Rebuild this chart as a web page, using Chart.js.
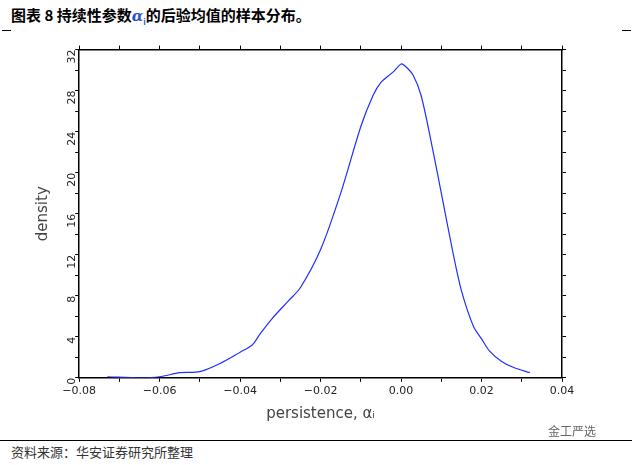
<!DOCTYPE html>
<html>
<head>
<meta charset="utf-8">
<script src="https://cdn.jsdelivr.net/npm/chart.js@4"></script>
<style>
  body { margin: 0; width: 632px; height: 465px; background: #fff; position: relative; font-family: "Noto Sans CJK SC", sans-serif; overflow: hidden; }
  #title { position: absolute; left: 11px; top: 4px; font-size: 15px; font-weight: bold; color: #000; }
  #title i { color: #2a4fd0; font-family: "DejaVu Serif", serif; }
  .mark { position: absolute; top: 30px; width: 9px; border-top: 1px solid #000; }
  #foot { position: absolute; left: 0; right: 0; top: 440px; border-top: 1px solid #000; }
  #src { position: absolute; left: 11px; top: 442px; font-size: 13px; color: #333; }
  #wm { position: absolute; left: 548px; top: 422px; font-size: 12px; color: #666; }
  #box { position: absolute; left: 0; top: 40px; width: 632px; height: 395px; }
</style>
</head>
<body>
<div id="title">图表 8 持续性参数<i>α</i><sub style="font-size:8px;color:#2a4fd0">i</sub>的后验均值的样本分布。</div>
<div class="mark" style="left:2px"></div>
<div class="mark" style="left:622px"></div>
<div id="box"><canvas id="c"></canvas></div>
<div id="foot"></div>
<div id="src">资料来源：华安证券研究所整理</div>
<div id="wm">金工严选</div>
<script>
const persistence = [-0.073, -0.065, -0.06, -0.055, -0.05, -0.045, -0.04, -0.037, -0.035, -0.032, -0.028, -0.025, -0.02, -0.015, -0.01, -0.007, -0.005, -0.002, 0, 0.001, 0.003, 0.005, 0.008, 0.01, 0.013, 0.015, 0.018, 0.02, 0.022, 0.025, 0.028, 0.032];
const density = [0.1, 0, 0.1, 0.5, 0.6, 1.4, 2.5, 3.2, 4.3, 5.8, 7.5, 8.8, 12.5, 18, 24.5, 27.5, 28.8, 29.8, 30.6, 30.4, 29.5, 27.5, 22, 18, 12, 8.5, 5, 3.8, 2.6, 1.6, 1.0, 0.5];

const axisFont = { family: "DejaVu Sans", size: 11 };
const tickGrid = { drawOnChartArea: false, color: "#000", tickLength: 4 };

new Chart(document.getElementById("c"), {
    type: "line",
    data: {
        datasets: [{
            data: persistence.map((x, i) => ({ x: x, y: density[i] })),
            borderColor: "#1f2fff",
            borderWidth: 1.2,
            pointRadius: 0,
            tension: 0.3,
            fill: false,
        }],
    },
    options: {
        responsive: true,
        maintainAspectRatio: false,
        animation: false,
        layout: { padding: { left: 30, right: 66, top: 2, bottom: 8 } },
        plugins: { legend: { display: false }, tooltip: { enabled: false } },
        scales: {
            x: {
                type: "linear", min: -0.08, max: 0.04,
                ticks: { stepSize: 0.01, color: "#222", font: axisFont,
                    callback: v => Math.round(v * 100) % 2 === 0 ? v.toFixed(2).replace("-", "−") : "" },
                grid: tickGrid,
                border: { color: "#000", width: 1.5 },
                title: { display: true, text: "persistence, αᵢ", color: "#444", font: { family: "DejaVu Sans", size: 15 } },
            },
            x2: {
                type: "linear", position: "top", min: -0.08, max: 0.04,
                ticks: { stepSize: 0.01, display: false },
                grid: tickGrid,
                border: { color: "#000", width: 1.5 },
            },
            y: {
                min: 0, max: 32,
                ticks: { stepSize: 2, color: "#222", font: axisFont, maxRotation: 90, minRotation: 90,
                    callback: v => v % 4 === 0 ? v : "" },
                grid: tickGrid,
                border: { color: "#000", width: 1.5 },
                title: { display: true, text: "density", color: "#444", font: { family: "DejaVu Sans", size: 15 } },
            },
            y2: {
                position: "right", min: 0, max: 32,
                ticks: { stepSize: 2, display: false },
                grid: tickGrid,
                border: { color: "#000", width: 1.5 },
            },
        },
    },
});
</script>
</body>
</html>
